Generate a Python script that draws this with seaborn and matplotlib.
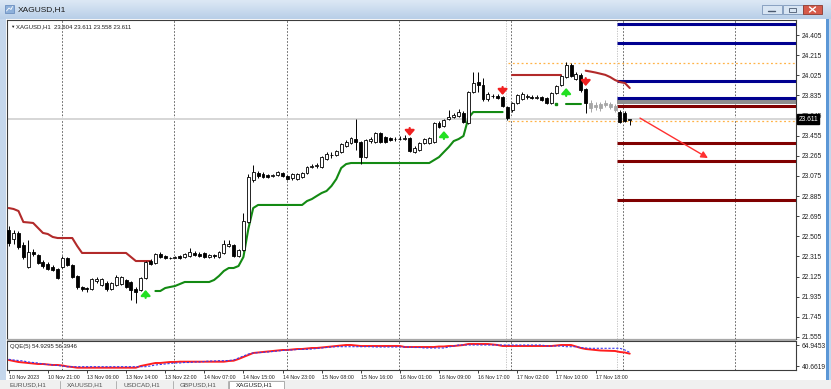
import matplotlib
matplotlib.use("Agg")
import matplotlib.pyplot as plt
import matplotlib.transforms as mtransforms
from matplotlib.patches import Rectangle
import numpy as np
import pandas as pd
import seaborn as sns

sns.set_theme(style="white")
plt.rcParams["font.family"] = ["Liberation Sans", "DejaVu Sans"]

# ---------------- data ----------------
symbol = "XAGUSD,H1"
header_ohlc = ["23.604", "23.611", "23.558", "23.611"]
qqe_label = "QQE(5) 54.9295 56.3946"

opens = [22.565, 22.480, 22.537, 22.424, 22.216, 22.357, 22.329, 22.263, 22.244, 22.216,
         22.197, 22.216, 22.301, 22.235, 22.131, 22.027, 22.017, 22.008, 22.084, 22.046,
         22.065, 22.008, 22.046, 22.055, 22.093, 22.074, 22.008, 21.999, 22.112, 22.272,
         22.254, 22.338, 22.320, 22.301, 22.305, 22.320, 22.310, 22.320, 22.348, 22.338,
         22.348, 22.310, 22.329, 22.310, 22.348, 22.414, 22.424, 22.320, 22.376, 22.640,
         23.037, 23.103, 23.093, 23.084, 23.074, 23.084, 23.103, 23.074, 23.056, 23.046,
         23.065, 23.103, 23.159, 23.169, 23.159, 23.235, 23.268, 23.273, 23.301, 23.358,
         23.386, 23.424, 23.395, 23.254, 23.405, 23.395, 23.480, 23.443, 23.433, 23.419,
         23.424, 23.424, 23.433, 23.301, 23.320, 23.386, 23.386, 23.395, 23.575, 23.546,
         23.612, 23.631, 23.640, 23.669, 23.575, 23.867, 23.961, 23.933, 23.801, 23.825,
         23.829, 23.820, 23.725, 23.697, 23.763, 23.801, 23.820, 23.820, 23.815, 23.820,
         23.810, 23.763, 23.858, 23.933, 24.008, 24.121, 23.990, 24.027, 23.895, 23.763,
         23.744, 23.754, 23.763, 23.754, 23.735, 23.678, 23.669, 23.604]
highs = [22.603, 22.565, 22.556, 22.452, 22.471, 22.386, 22.338, 22.282, 22.263, 22.235,
         22.206, 22.320, 22.310, 22.244, 22.140, 22.036, 22.027, 22.112, 22.121, 22.112,
         22.084, 22.074, 22.140, 22.131, 22.103, 22.084, 22.027, 22.121, 22.272, 22.291,
         22.348, 22.357, 22.329, 22.310, 22.320, 22.329, 22.348, 22.395, 22.367, 22.357,
         22.357, 22.338, 22.338, 22.367, 22.471, 22.471, 22.433, 22.386, 22.725, 23.093,
         23.178, 23.122, 23.112, 23.093, 23.093, 23.122, 23.112, 23.084, 23.103, 23.103,
         23.112, 23.169, 23.188, 23.197, 23.263, 23.301, 23.301, 23.320, 23.386, 23.414,
         23.443, 23.612, 23.405, 23.424, 23.443, 23.490, 23.490, 23.452, 23.443, 23.443,
         23.452, 23.461, 23.443, 23.358, 23.395, 23.433, 23.443, 23.584, 23.594, 23.612,
         23.697, 23.669, 23.706, 23.688, 23.877, 24.056, 24.056, 23.999, 23.867, 23.848,
         23.848, 23.829, 23.735, 23.772, 23.848, 23.867, 23.848, 23.839, 23.839, 23.829,
         23.820, 23.867, 23.933, 24.027, 24.150, 24.140, 24.056, 24.046, 23.905, 23.791,
         23.772, 23.772, 23.791, 23.772, 23.754, 23.697, 23.688, 23.611]
lows = [22.414, 22.433, 22.386, 22.291, 22.206, 22.320, 22.244, 22.206, 22.187, 22.178,
        22.103, 22.206, 22.225, 22.112, 22.008, 21.989, 21.980, 21.999, 22.065, 22.036,
        21.989, 21.999, 22.036, 22.046, 22.017, 21.904, 21.876, 21.989, 22.103, 22.235,
        22.244, 22.301, 22.291, 22.291, 22.301, 22.291, 22.301, 22.310, 22.320, 22.310,
        22.301, 22.301, 22.301, 22.301, 22.338, 22.405, 22.310, 22.310, 22.367, 22.631,
        23.018, 23.056, 23.056, 23.056, 23.065, 23.074, 23.065, 23.037, 23.037, 23.037,
        23.056, 23.093, 23.150, 23.150, 23.150, 23.225, 23.244, 23.263, 23.292, 23.348,
        23.376, 23.320, 23.188, 23.244, 23.386, 23.386, 23.386, 23.386, 23.405, 23.405,
        23.414, 23.414, 23.301, 23.292, 23.310, 23.376, 23.376, 23.386, 23.527, 23.537,
        23.603, 23.622, 23.631, 23.575, 23.565, 23.858, 23.867, 23.782, 23.782, 23.810,
        23.801, 23.725, 23.603, 23.678, 23.754, 23.791, 23.801, 23.801, 23.801, 23.782,
        23.754, 23.754, 23.848, 23.923, 23.999, 24.008, 23.980, 23.867, 23.669, 23.678,
        23.697, 23.688, 23.725, 23.706, 23.678, 23.575, 23.584, 23.558]
closes = [22.443, 22.537, 22.405, 22.310, 22.357, 22.338, 22.254, 22.225, 22.197, 22.187,
          22.112, 22.301, 22.235, 22.121, 22.027, 22.008, 22.008, 22.103, 22.103, 22.103,
          22.008, 22.065, 22.121, 22.121, 22.027, 21.999, 21.980, 22.112, 22.263, 22.244,
          22.338, 22.310, 22.301, 22.296, 22.310, 22.301, 22.338, 22.357, 22.329, 22.320,
          22.310, 22.329, 22.315, 22.357, 22.433, 22.433, 22.320, 22.376, 22.650, 23.065,
          23.112, 23.074, 23.065, 23.065, 23.084, 23.112, 23.074, 23.046, 23.093, 23.093,
          23.103, 23.159, 23.169, 23.174, 23.254, 23.282, 23.273, 23.310, 23.376, 23.395,
          23.433, 23.395, 23.254, 23.414, 23.424, 23.480, 23.395, 23.395, 23.414, 23.424,
          23.419, 23.433, 23.310, 23.339, 23.386, 23.424, 23.433, 23.575, 23.537, 23.603,
          23.631, 23.650, 23.678, 23.584, 23.867, 23.952, 23.933, 23.801, 23.848, 23.829,
          23.815, 23.735, 23.622, 23.763, 23.839, 23.848, 23.829, 23.815, 23.820, 23.791,
          23.763, 23.858, 23.923, 24.018, 24.121, 24.018, 24.037, 23.886, 23.763, 23.716,
          23.725, 23.716, 23.744, 23.725, 23.697, 23.584, 23.594, 23.611]
faded_bars = [119, 120, 121, 122, 123, 124]

# resistance (upper) step line segments
upper1_bars = list(range(0, 30))
upper1_vals = [22.772, 22.763, 22.744, 22.640, 22.636, 22.631, 22.584, 22.537, 22.527, 22.499,
               22.489, 22.489, 22.489, 22.489, 22.414, 22.348, 22.348, 22.348, 22.348, 22.348,
               22.348, 22.348, 22.348, 22.348, 22.348, 22.310, 22.272, 22.272, 22.272, 22.272]
upper2_bars = list(range(103, 114))
upper2_vals = [24.027, 24.027, 24.027, 24.027, 24.027, 24.027, 24.027, 24.027, 24.027, 24.027, 24.027]
upper3_bars = list(range(118, 128))
upper3_vals = [24.068, 24.060, 24.051, 24.040, 24.029, 24.008, 23.980, 23.961, 23.952, 23.905]

# support (lower) step line segments
lower1_bars = list(range(30, 102))
lower1_vals = [21.989, 21.989, 22.017, 22.027, 22.036, 22.055, 22.074, 22.074, 22.074, 22.074,
               22.074, 22.074, 22.093, 22.131, 22.178, 22.206, 22.206, 22.225, 22.310, 22.574,
               22.772, 22.801, 22.801, 22.801, 22.801, 22.801, 22.801, 22.801, 22.801, 22.801,
               22.801, 22.838, 22.857, 22.886, 22.914, 22.933, 22.980, 23.046, 23.150, 23.187,
               23.197, 23.197, 23.197, 23.197, 23.197, 23.197, 23.197, 23.197, 23.197, 23.197,
               23.197, 23.197, 23.197, 23.197, 23.197, 23.197, 23.197, 23.225, 23.253, 23.301,
               23.348, 23.404, 23.423, 23.452, 23.621, 23.678, 23.678, 23.678, 23.678, 23.678,
               23.678, 23.678]
lower2_bars = [114, 115, 116, 117]
lower2_vals = [23.754, 23.754, 23.754, 23.754]
lower2_dot_bar = [112]
lower2_dot_val = [23.754]

# signal arrows
up_arrow_bars = [28, 89, 114]
up_arrow_tips = [21.999, 23.499, 23.905]
down_arrow_bars = [82, 101, 118]
down_arrow_tips = [23.452, 23.839, 23.923]

# horizontal levels (start at bar 124.4)
blue_levels = [24.508, 24.325, 23.971, 23.815]
red_levels = [23.735, 23.390, 23.220, 22.852]
gray_band = [23.754, 23.791]
orange_levels = [24.140, 23.593]
bid_price = 23.611
projection = [(129.1, 23.621), (143.0, 23.244)]

price_ticks = [24.405, 24.215, 24.025, 23.835, 23.645, 23.455, 23.265, 23.075, 22.885,
               22.695, 22.505, 22.315, 22.125, 21.935, 21.745, 21.555]

time_label_bars = [0, 8, 16, 24, 32, 40, 48, 56, 64, 72, 80, 88, 96, 104, 112, 120]
time_labels = ["10 Nov 2023", "10 Nov 21:00", "13 Nov 06:00", "13 Nov 14:00", "13 Nov 22:00",
               "14 Nov 07:00", "14 Nov 15:00", "14 Nov 23:00", "15 Nov 08:00", "15 Nov 16:00",
               "16 Nov 01:00", "16 Nov 09:00", "16 Nov 17:00", "17 Nov 02:00", "17 Nov 10:00",
               "17 Nov 18:00"]

qqe_main = [47.61, 46.45, 45.29, 44.72, 44.14, 43.56, 42.98, 42.98, 42.40, 41.83,
            41.83, 41.25, 40.09, 39.51, 38.70, 38.70, 38.70, 38.70, 38.70, 38.70,
            38.70, 38.70, 38.70, 38.70, 38.70, 38.70, 38.70, 40.67, 41.83, 42.98,
            44.14, 44.14, 44.72, 45.29, 45.29, 45.64, 45.64, 45.64, 45.64, 45.64,
            45.64, 45.64, 45.64, 45.64, 45.64, 46.45, 46.80, 48.76, 51.07, 53.39,
            55.70, 56.28, 56.85, 57.43, 58.01, 58.59, 59.17, 59.17, 59.74, 60.32,
            60.32, 60.90, 61.48, 61.48, 62.06, 62.63, 63.21, 63.79, 64.37, 64.95,
            64.95, 64.37, 63.79, 63.79, 63.79, 63.79, 63.79, 63.79, 63.79, 63.79,
            63.79, 62.63, 62.63, 62.63, 62.63, 62.63, 62.63, 62.63, 63.21, 63.21,
            63.79, 63.79, 64.37, 64.95, 66.10, 66.10, 66.10, 66.10, 66.10, 65.52,
            64.95, 63.79, 63.79, 63.79, 63.79, 63.79, 63.79, 63.79, 63.79, 63.79,
            63.79, 63.79, 64.37, 64.95, 64.95, 64.95, 63.21, 61.48, 60.32, 59.74,
            59.17, 58.59, 58.36, 58.01, 58.01, 56.85, 56.28, 54.93]
qqe_signal = [48.41, 47.61, 47.03, 46.45, 45.29, 44.72, 44.14, 42.98, 42.40, 41.83,
              41.25, 40.67, 39.86, 39.86, 39.86, 39.86, 39.86, 39.86, 39.86, 39.86,
              39.86, 39.86, 39.86, 39.86, 39.86, 39.86, 39.86, 39.86, 39.86, 40.67,
              41.83, 42.40, 42.98, 43.56, 44.14, 44.14, 44.72, 44.72, 45.29, 45.29,
              45.87, 46.45, 46.45, 46.80, 46.80, 47.03, 47.61, 49.92, 52.23, 54.54,
              55.70, 56.05, 56.28, 56.85, 57.43, 58.01, 58.59, 59.17, 59.17, 59.74,
              59.97, 59.97, 60.32, 60.90, 61.48, 62.06, 62.63, 62.98, 62.98, 62.98,
              62.98, 62.98, 62.98, 62.98, 62.98, 62.63, 62.63, 62.63, 62.63, 62.63,
              62.63, 62.63, 62.63, 62.06, 62.06, 61.48, 61.48, 61.48, 61.48, 61.48,
              62.63, 63.79, 64.95, 64.95, 64.95, 64.95, 64.95, 64.95, 64.95, 64.95,
              64.95, 64.95, 64.95, 64.95, 64.95, 64.95, 64.95, 64.95, 64.95, 64.95,
              63.79, 63.79, 63.79, 63.79, 62.98, 62.98, 62.98, 62.06, 61.48, 61.13,
              61.13, 61.13, 61.13, 61.13, 61.13, 61.13, 59.17, 56.39]
qqe_ticks = [64.9453, 40.6619]

tabs = ["EURUSD,H1", "XAUUSD,H1", "USDCAD,H1", "GBPUSD,H1", "XAGUSD,H1"]

# ---------------- layout ----------------
W, H = 831, 389
fig = plt.figure(figsize=(W / 100, H / 100), dpi=100)
fig.patch.set_facecolor("white")


def frac(l, t, r, b):
    return [l / W, 1 - b / H, (r - l) / W, (b - t) / H]


X0, DX = 8.7, 4.89  # pixel of bar 0, pixels per bar


def px2bar(px):
    return (px - X0) / DX


ax = fig.add_axes(frac(7, 20.5, 796, 339))
ax2 = fig.add_axes(frac(7, 341, 796, 369.5), sharex=ax)
ov = fig.add_axes([0, 0, 1, 1], zorder=20)
ov.set_xlim(0, W)
ov.set_ylim(H, 0)
ov.axis("off")
ov.patch.set_alpha(0)

XR = px2bar(796)
ax.set_xlim(px2bar(7), XR)
ax.set_ylim(21.536, 24.542)
ax2.set_ylim(36.62, 69.57)

for a in (ax, ax2):
    a.set_facecolor("white")
    for s in a.spines.values():
        s.set_color("#3c3c3c")
        s.set_linewidth(0.8)

# grid lines and separators
grid_bars = [px2bar(p) for p in (62, 174, 287, 399, 511, 623, 735)]
sep_bars = [px2bar(p) for p in (506, 617)]
for a in (ax, ax2):
    for gb in grid_bars:
        a.axvline(gb, color="#505050", lw=0.6, ls=(0, (2, 2)), zorder=1)
    for sb in sep_bars:
        a.axvline(sb, color="#BBBBBB", lw=0.6, ls=(0, (1.5, 1.5)), zorder=1)

# bid line and orange dotted levels
ax.axhline(bid_price, color="#D6D6D6", lw=1.4, zorder=1)
for lv in orange_levels:
    ax.hlines(lv, px2bar(508), XR, color="#FFB347", lw=0.9, ls=(0, (1.5, 2)), zorder=2)

# levels
LV0 = px2bar(617)
ax.fill_between([LV0, XR], gray_band[0], gray_band[1], color="#8E8E8E", lw=0, zorder=2)
ax.hlines(blue_levels, LV0, XR, color="#000090", lw=2.2, zorder=3)
ax.hlines(red_levels, LV0, XR, color="#800000", lw=2.2, zorder=3)

# candles
df = pd.DataFrame({"bar": np.arange(len(opens)), "o": opens, "h": highs, "l": lows, "c": closes})
for r in df.itertuples():
    col = "#A6A6A6" if r.bar in faded_bars else "black"
    ax.vlines(r.bar, r.l, r.h, color=col, lw=0.7, zorder=5)
    lo, hi = min(r.o, r.c), max(r.o, r.c)
    if hi - lo < 0.004:
        ax.hlines(lo, r.bar - 0.32, r.bar + 0.32, color=col, lw=0.9, zorder=6)
    else:
        face = "white" if r.c > r.o else col
        ax.add_patch(Rectangle((r.bar - 0.3, lo), 0.6, hi - lo, facecolor=face,
                               edgecolor=col, lw=0.6, zorder=6))

# step lines
for bars, vals in ((upper1_bars, upper1_vals), (upper2_bars, upper2_vals), (upper3_bars, upper3_vals)):
    sns.lineplot(x=bars, y=vals, ax=ax, color="#B22A2A", lw=1.5, zorder=4)
for bars, vals in ((lower1_bars, lower1_vals), (lower2_bars, lower2_vals)):
    sns.lineplot(x=bars, y=vals, ax=ax, color="#138A13", lw=1.5, zorder=4)
ax.plot(lower2_dot_bar, lower2_dot_val, "s", color="#138A13", ms=1.5, zorder=4)

# arrows
AL = 0.075
for b, t in zip(up_arrow_bars, up_arrow_tips):
    ax.annotate("", xy=(b, t), xytext=(b, t - AL),
                arrowprops=dict(arrowstyle="-|>,head_width=0.35,head_length=0.4", color="#22E022",
                                lw=1.6, shrinkA=0, shrinkB=0, mutation_scale=8), zorder=7)
for b, t in zip(down_arrow_bars, down_arrow_tips):
    ax.annotate("", xy=(b, t), xytext=(b, t + AL),
                arrowprops=dict(arrowstyle="-|>,head_width=0.35,head_length=0.4", color="#F02020",
                                lw=1.6, shrinkA=0, shrinkB=0, mutation_scale=8), zorder=7)

ax.annotate("", xy=projection[1], xytext=projection[0],
            arrowprops=dict(arrowstyle="-|>,head_width=0.25,head_length=0.5", color="#FF3030",
                            lw=1.0, shrinkA=0, shrinkB=0, mutation_scale=8), zorder=7)

# price axis
ax.yaxis.tick_right()
ax.set_yticks(price_ticks)
ax.set_yticklabels([f"{p:.3f}" for p in price_ticks])
ax.tick_params(axis="y", right=True, length=2.5, width=0.6, pad=1.5, labelsize=4.8,
               colors="#202020", direction="out")
ax.tick_params(axis="x", bottom=False, labelbottom=False)
ax.set_xlabel("")
ax.set_ylabel("")

# QQE panel
x_all = np.arange(len(qqe_main))
sns.lineplot(x=x_all, y=qqe_main, ax=ax2, color="#FF1E1E", lw=1.4, zorder=4)
sns.lineplot(x=x_all, y=qqe_signal, ax=ax2, color="#3A3AF0", lw=0.8, ls=(0, (2, 1.5)), zorder=5)
ax2.yaxis.tick_right()
ax2.set_yticks(qqe_ticks)
ax2.set_yticklabels([f"{v:.4f}" for v in qqe_ticks])
ax2.tick_params(axis="y", right=True, length=2.5, width=0.6, pad=1.5, labelsize=4.8,
                colors="#202020", direction="out")
ax2.set_xticks(time_label_bars)
ax2.set_xticklabels(time_labels, ha="left")
ax2.tick_params(axis="x", bottom=True, length=2.5, width=0.6, pad=1.5, labelsize=3.8,
                colors="#202020", direction="out")
ax2.set_xlabel("")
ax2.set_ylabel("")

# ---------------- window chrome ----------------
grad = np.linspace(0, 1, 20).reshape(-1, 1)
cmap = matplotlib.colors.LinearSegmentedColormap.from_list("t", ["#DCE8F5", "#B9CFE8"])
ov.imshow(grad, extent=(0, W, 19, 0), cmap=cmap, aspect="auto", zorder=0)
ov.add_patch(Rectangle((0, 18.5), W, 0.8, fc="#8EABCF", ec="none"))
ov.add_patch(Rectangle((0, 19), 5.5, 364, fc="#C5D7EC", ec="none"))
ov.add_patch(Rectangle((5.5, 19), 0.8, 364, fc="#9DB6D6", ec="none"))
ov.add_patch(Rectangle((826, 19), 3, 364, fc="#5B97D6", ec="none"))
ov.add_patch(Rectangle((829, 19), 2, 364, fc="#C5D7EC", ec="none"))
ov.add_patch(Rectangle((7, 339), 789, 2, fc="#A8A8A8", ec="none"))
# bid price label on the price scale (drawn on top of the scale)
bid_px = 20.5 + (24.542 - bid_price) / (24.542 - 21.536) * (339 - 20.5)
ov.text(798.5, bid_px, f"{bid_price:.3f}", ha="left", va="center", fontsize=4.8, color="white",
        bbox=dict(boxstyle="square,pad=0.2", fc="black", ec="black"))
# icon and title
ov.add_patch(Rectangle((5, 5), 9, 8, fc="#8DB0DA", ec="#5F84B8", lw=0.5))
ov.plot([6.5, 9, 11, 12.5], [11, 8, 9.5, 6.5], color="white", lw=0.6)
ov.text(18, 9.5, symbol, fontsize=6, va="center", ha="left", color="#1A1A1A")
# window buttons
ov.add_patch(Rectangle((762, 5), 20, 9, fc="#D8E5F3", ec="#7D97BA", lw=0.6))
ov.plot([768, 775], [10.5, 10.5], color="#4A5A70", lw=1.0)
ov.add_patch(Rectangle((782.5, 5), 20, 9, fc="#D8E5F3", ec="#7D97BA", lw=0.6))
ov.add_patch(Rectangle((789, 7.5), 7, 4.5, fc="none", ec="#4A5A70", lw=0.6))
ov.add_patch(Rectangle((803, 5), 19, 9, fc="#D65A4A", ec="#8A3A30", lw=0.6))
ov.plot([809.5, 815.5], [7, 12], color="white", lw=1.0)
ov.plot([809.5, 815.5], [12, 7], color="white", lw=1.0)
# chart header texts
ov.text(10.5, 26.5, "▼", fontsize=3.2, va="center", ha="left", color="#202020")
ov.text(16, 26.5, symbol + "  " + " ".join(header_ohlc), fontsize=4.3, va="center",
        ha="left", color="#202020")
ov.text(10, 346.5, qqe_label, fontsize=4.3, va="center", ha="left", color="#202020")
# bottom tabs
ov.add_patch(Rectangle((0, 379.5), W, 10, fc="#F0F0F0", ec="none"))
ov.add_patch(Rectangle((0, 379.5), W, 0.7, fc="#C8C8C8", ec="none"))
ov.add_patch(Rectangle((229, 381), 55, 9, fc="white", ec="#A0A0A0", lw=0.6))
for tx, lab in zip([10, 67, 124, 180, 236], tabs):
    ov.text(tx, 382.6, lab, fontsize=4.6, va="top", ha="left",
            color="#202020" if lab == symbol else "#505050")
for sx in [60, 116, 173, 228]:
    ov.plot([sx, sx], [381, 389], color="#A8A8A8", lw=0.6)

fig.savefig("out.png", dpi=100, facecolor=fig.get_facecolor())
